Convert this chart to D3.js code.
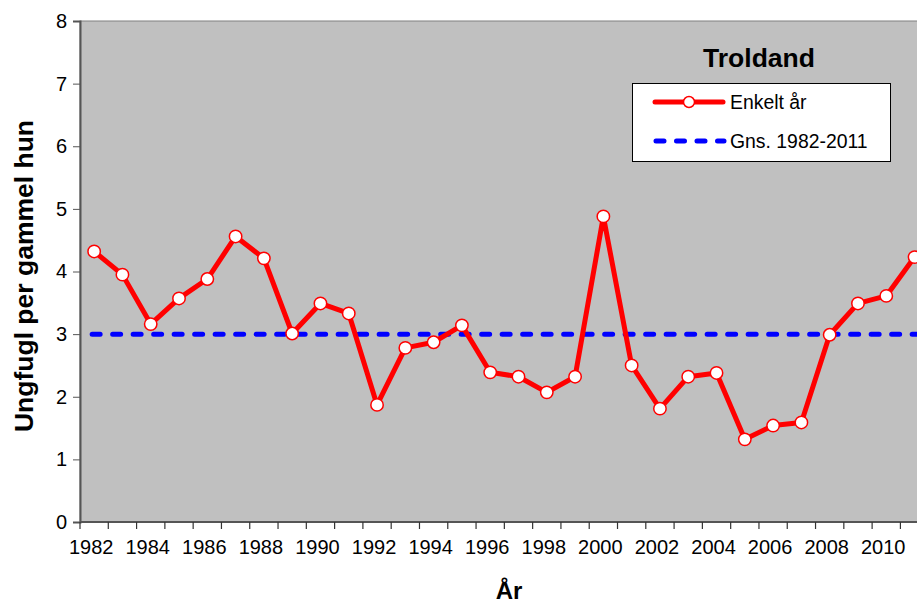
<!DOCTYPE html>
<html>
<head>
<meta charset="utf-8">
<script src="https://cdn.jsdelivr.net/npm/d3@7"></script>
<style>
  body { margin: 0; background: #fff; }
  svg text { font-family: "Liberation Sans", Arial, sans-serif; }
</style>
</head>
<body>
<svg id="chart" width="917" height="605"></svg>
<script>
// Data
var years = d3.range(1982, 2012);
var values = [4.32, 3.95, 3.16, 3.57, 3.88, 4.56, 4.21, 3.01, 3.49, 3.33,
              1.87, 2.78, 2.87, 3.14, 2.39, 2.32, 2.07, 2.32, 4.88, 2.50,
              1.81, 2.32, 2.38, 1.32, 1.54, 1.59, 2.99, 3.49, 3.61, 4.23];
var meanValue = 3.0;
var yTicks = [0, 1, 2, 3, 4, 5, 6, 7, 8];
var xLabels = d3.range(1982, 2012, 2);

var seriesNames = ["Enkelt år", "Gns. 1982-2011"];
var title = "Troldand";

// plot area bounds (note: "top" is a reserved window prop)
var plotLeft = 80, plotTop = 21, plotBottom = 522;
var bandW = 28.29;

var svg = d3.select("#chart");

var x = d3.scaleBand()
  .domain(years)
  .range([plotLeft, plotLeft + bandW*years.length])
  .padding(0);

var y = d3.scaleLinear()
  .domain([0, 8])
  .range([plotBottom, plotTop]);

var cx = function(d, i) { return x(years[i]) + x.bandwidth()/2; };

// plot area
svg.append("rect")
  .attr("x", plotLeft)
  .attr("y", plotTop)
  .attr("width", x.range()[1] - plotLeft)
  .attr("height", plotBottom - plotTop)
  .attr("fill", "#c0c0c0")
  .attr("stroke", "#808080")
  .attr("stroke-width", 1);

// y axis
var yAxis = svg.append("g")
  .attr("transform", "translate(" + plotLeft + ",0)")
  .call(d3.axisLeft(y).tickValues(yTicks).tickSize(7).tickPadding(6).tickFormat(d3.format("d")));
yAxis.select(".domain").attr("stroke", "#555").attr("stroke-width", 2);
yAxis.selectAll(".tick line").attr("stroke", "#555");
yAxis.selectAll("text").attr("font-size", 20).attr("fill", "#000")
  .style("font-family", "Liberation Sans, Arial, sans-serif");

// x axis (ticks on category boundaries)
var xg = svg.append("g").attr("transform", "translate(0," + plotBottom + ")");
xg.append("line")
  .attr("x1", plotLeft).attr("x2", x.range()[1])
  .attr("stroke", "#555").attr("stroke-width", 2);
xg.selectAll(".bt")
  .data(years.concat([2012]))
  .enter().append("line")
  .attr("x1", function(d, i) { return plotLeft + i*x.bandwidth(); })
  .attr("x2", function(d, i) { return plotLeft + i*x.bandwidth(); })
  .attr("y1", 0).attr("y2", 7)
  .attr("stroke", "#333").attr("stroke-width", 1.2);
xg.selectAll(".lbl")
  .data(xLabels)
  .enter().append("text")
  .attr("x", function(d) { return x(d) + x.bandwidth()/2 - 3; })
  .attr("y", 32)
  .attr("text-anchor", "middle")
  .attr("font-size", 20)
  .text(function(d) { return d; });

// mean line
svg.append("line")
  .attr("x1", x(1982) + x.bandwidth()/2 - 2)
  .attr("x2", x.range()[1])
  .attr("y1", y(meanValue)).attr("y2", y(meanValue))
  .attr("stroke", "#0000ff")
  .attr("stroke-width", 5)
  .attr("stroke-linecap", "round")
  .attr("stroke-dasharray", "8,12.5");

// series line
var line = d3.line()
  .x(cx)
  .y(function(d) { return y(d); });

svg.append("path")
  .datum(values)
  .attr("d", line)
  .attr("fill", "none")
  .attr("stroke", "#ff0000")
  .attr("stroke-width", 5)
  .attr("stroke-linejoin", "round");

svg.selectAll(".pt")
  .data(values)
  .enter().append("circle")
  .attr("cx", cx)
  .attr("cy", function(d) { return y(d); })
  .attr("r", 6.2)
  .attr("fill", "#fff")
  .attr("stroke", "#ff0000")
  .attr("stroke-width", 1.5);

// title
svg.append("text")
  .attr("x", 759).attr("y", 67)
  .attr("text-anchor", "middle")
  .attr("font-size", 26.5)
  .attr("font-weight", "bold")
  .text(title);

// legend
var lg = svg.append("g");
lg.append("rect")
  .attr("x", 632.5).attr("y", 83.5)
  .attr("width", 258).attr("height", 78)
  .attr("fill", "#fff").attr("stroke", "#000").attr("stroke-width", 1);
lg.append("line")
  .attr("x1", 655).attr("x2", 723).attr("y1", 102).attr("y2", 102)
  .attr("stroke", "#ff0000").attr("stroke-width", 5).attr("stroke-linecap", "round");
lg.append("circle")
  .attr("cx", 689).attr("cy", 102).attr("r", 5.5)
  .attr("fill", "#fff").attr("stroke", "#ff0000").attr("stroke-width", 1.5);
lg.append("line")
  .attr("x1", 656).attr("x2", 724).attr("y1", 141).attr("y2", 141)
  .attr("stroke", "#0000ff").attr("stroke-width", 5).attr("stroke-linecap", "round")
  .attr("stroke-dasharray", "8,12.5");
lg.selectAll(".lt")
  .data(seriesNames)
  .enter().append("text")
  .attr("x", 730)
  .attr("y", function(d, i) { return 109 + i*39; })
  .attr("font-size", 19.4)
  .text(function(d) { return d; });

// axis titles
svg.append("text")
  .attr("transform", "translate(33,276) rotate(-90)")
  .attr("text-anchor", "middle")
  .attr("font-size", 26.5)
  .attr("font-weight", "bold")
  .text("Ungfugl per gammel hun");

svg.append("text")
  .attr("x", 509).attr("y", 599)
  .attr("text-anchor", "middle")
  .attr("font-size", 24)
  .attr("font-weight", "bold")
  .text("År");
</script>
</body>
</html>
